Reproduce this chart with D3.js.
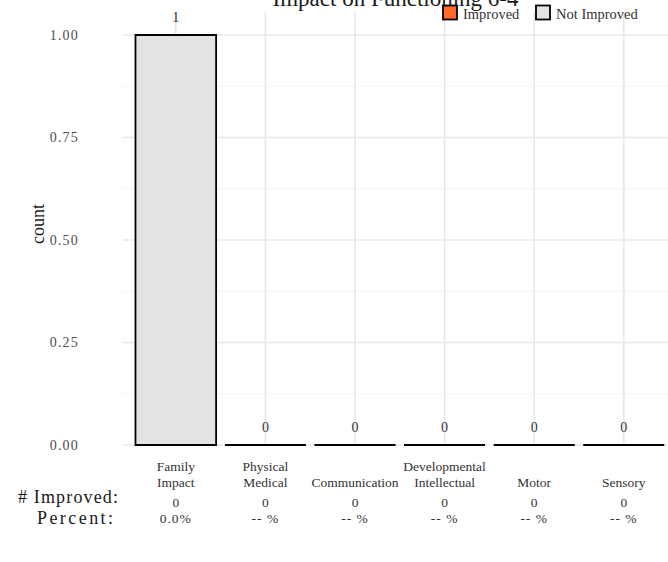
<!DOCTYPE html>
<html><head><meta charset="utf-8">
<script src="https://cdn.jsdelivr.net/npm/d3@7"></script>
<style>body{margin:0;background:#fff}svg{display:block;font-family:"Liberation Serif","DejaVu Serif",serif}</style>
</head><body><svg id="c" width="668" height="562"></svg>
<script>
const title = "Impact on Functioning 6-4";
const categories = ["Family\nImpact","Physical\nMedical","Communication","Developmental\nIntellectual","Motor","Sensory"];
const improved = [0,0,0,0,0,0];
const notImproved = [1,0,0,0,0,0];
const percentLabels = ["0.0%","-- %","-- %","-- %","-- %","-- %"];
const yTicks = [0,0.25,0.5,0.75,1];
const yMinor = [0.125,0.375,0.625,0.875];
const seriesNames = ["Improved","Not Improved"];
const seriesColors = ["#FF6A2B","#E3E3E3"];

const svg = d3.select("#c");
const x = d3.scaleBand().domain(categories).range([131,668.6]).paddingInner(0.1).paddingOuter(0.05);
const y = d3.scaleLinear().domain([0,1]).range([445,35]);
const panelL = 123, panelR = 668;

// grid
const g = svg.append("g");
g.selectAll(".mn").data(yMinor).join("line")
  .attr("x1",panelL).attr("x2",panelR).attr("y1",d=>y(d)).attr("y2",d=>y(d))
  .attr("stroke","#F4F4F4").attr("stroke-width",1.2);
g.selectAll(".mj").data(yTicks).join("line")
  .attr("x1",panelL).attr("x2",panelR).attr("y1",d=>y(d)).attr("y2",d=>y(d))
  .attr("stroke","#E8E8E8").attr("stroke-width",1.6);
g.selectAll(".vx").data(categories).join("line")
  .attr("x1",d=>x(d)+x.bandwidth()/2).attr("x2",d=>x(d)+x.bandwidth()/2)
  .attr("y1",12).attr("y2",445)
  .attr("stroke","#E8E8E8").attr("stroke-width",1.6);

// y axis labels
const yAxis = d3.axisLeft(y).tickValues(yTicks).tickFormat(d3.format(".2f")).tickSize(0).tickPadding(0);
const ya = svg.append("g").attr("transform","translate(79,0)").call(yAxis);
ya.select(".domain").remove();
ya.selectAll("text").attr("font-size",14).attr("letter-spacing",1.2).attr("fill","#4D4D4D").attr("font-family","Liberation Serif");

svg.append("text").attr("transform","translate(44,224) rotate(-90)")
  .attr("text-anchor","middle").attr("font-size",18).attr("fill","#1a1a1a").text("count");

// bars (paths so zero-height bars still show their outline)
const rows = categories.map((c,i)=>({cat:c, Improved:improved[i], "Not Improved":notImproved[i]}));
const stack = d3.stack().keys(seriesNames)(rows);
svg.append("g").selectAll("g").data(stack).join("g")
  .attr("fill",(d,i)=>seriesColors[i])
  .selectAll("path").data(d=>d).join("path")
  .attr("d",d=>{
    const x0 = x(d.data.cat), w = x.bandwidth(), y1 = y(d[1]), h = y(d[0])-y(d[1]);
    return `M${x0},${y1}h${w}v${h}h${-w}Z`;
  })
  .attr("stroke","#000").attr("stroke-width",1.8);

// totals
svg.append("g").selectAll("text").data(rows).join("text")
  .attr("x",d=>x(d.cat)+x.bandwidth()/2)
  .attr("y",d=>y(d.Improved+d["Not Improved"])-13)
  .attr("text-anchor","middle").attr("font-size",14).attr("fill","#333")
  .text(d=>d.Improved+d["Not Improved"]);

// title
svg.append("text").attr("x",(panelL+panelR)/2).attr("y",6).attr("text-anchor","middle")
  .attr("font-size",23).attr("fill","#1a1a1a").text(title);

// legend
const leg = svg.append("g");
const legX = [443,536];
seriesNames.forEach((s,i)=>{
  leg.append("rect").attr("x",legX[i]).attr("y",5.5).attr("width",14).attr("height",14)
    .attr("fill",seriesColors[i]).attr("stroke","#000").attr("stroke-width",1.8);
  leg.append("text").attr("x",legX[i]+20).attr("y",18.5).attr("font-size",14.5).attr("fill","#333").text(s);
});

// bottom table
const tb = svg.append("g").attr("font-size",13.5).attr("fill","#333");
categories.forEach((c,i)=>{
  const cx = x(c)+x.bandwidth()/2;
  const lines = c.split("\n");
  lines.forEach((ln,j)=>{
    tb.append("text").attr("x",cx).attr("y",487-(lines.length-1-j)*16)
      .attr("text-anchor","middle").text(ln);
  });
  tb.append("text").attr("x",cx).attr("y",507).attr("text-anchor","middle").text(improved[i]);
  tb.append("text").attr("x",cx).attr("y",523).attr("text-anchor","middle").attr("letter-spacing",1).text(percentLabels[i]);
});
svg.append("text").attr("x",18).attr("y",503).attr("font-size",18)
  .attr("textLength",100).attr("lengthAdjust","spacing").attr("fill","#1a1a1a").text("# Improved:");
svg.append("text").attr("x",37).attr("y",524).attr("font-size",18)
  .attr("textLength",76).attr("lengthAdjust","spacing").attr("fill","#1a1a1a").text("Percent:");
</script></body></html>
